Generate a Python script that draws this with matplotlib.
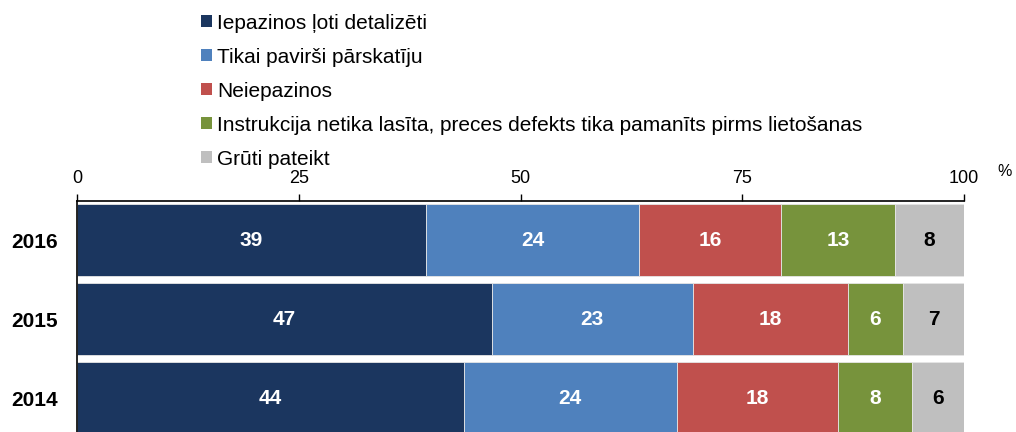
import matplotlib.pyplot as plt
from matplotlib.patches import Patch

plt.rcParams['font.family'] = ['Liberation Sans', 'DejaVu Sans']

years = ['2016', '2015', '2014']
series = ['Iepazinos ļoti detalizēti',
          'Tikai pavirši pārskatīju',
          'Neiepazinos',
          'Instrukcija netika lasīta, preces defekts tika pamanīts pirms lietošanas',
          'Grūti pateikt']
# shares by year (2016, 2015, 2014), %
iepazinos = [39.3, 46.8, 43.6]
pavirsi = [24.1, 22.6, 24.0]
neiepazinos = [16.0, 17.5, 18.2]
instrukcija = [12.8, 6.2, 8.3]
gruti = [7.8, 6.9, 5.9]
labels = [[39, 47, 44], [24, 23, 24], [16, 18, 18], [13, 6, 8], [8, 7, 6]]

colors = ['#1b365f', '#4f81bd', '#c0504d', '#77933c', '#bfbfbf']
text_colors = ['white', 'white', 'white', 'white', 'black']

fig = plt.figure(figsize=(10.16, 4.32), dpi=100)
ax = fig.add_axes([77 / 1016, 0, (964 - 77) / 1016, (432 - 201) / 432])

ypos = list(range(len(years)))
left = [0, 0, 0]
for i, vals in enumerate([iepazinos, pavirsi, neiepazinos, instrukcija, gruti]):
    ax.barh(ypos, vals, left=left, height=0.9, color=colors[i],
            edgecolor='#e6e6e6', linewidth=0.6)
    for j, v in enumerate(vals):
        ax.text(left[j] + v / 2, ypos[j], str(labels[i][j]), ha='center', va='center',
                color=text_colors[i], fontsize=15, fontweight='bold')
    left = [a + b for a, b in zip(left, vals)]

ax.set_xlim(0, 100)
ax.set_ylim(2.43, -0.494)
ax.set_xticks([0, 25, 50, 75, 100])
ax.xaxis.tick_top()
ax.tick_params(axis='x', direction='out', length=5, width=1, labelsize=13, pad=5)
ax.set_yticks(ypos)
ax.set_yticklabels(years, fontsize=15, fontweight='bold')
ax.tick_params(axis='y', length=0, pad=14)
ax.spines['right'].set_visible(False)
ax.spines['bottom'].set_visible(False)
ax.spines['top'].set_linewidth(1.2)
ax.spines['left'].set_linewidth(1.2)

fig.text(1005 / 1016, 1 - 172 / 432, '%', fontsize=11.5, ha='center', va='center')

handles = [Patch(facecolor=c, edgecolor='none') for c in colors]
fig.legend(handles, series, loc='upper left', bbox_to_anchor=(193 / 1016, 0.988),
           frameon=False, fontsize=15, handlelength=0.5, handleheight=0.5,
           handletextpad=0.25, labelspacing=0.72, borderaxespad=0)

fig.savefig('out.png', dpi=100)
